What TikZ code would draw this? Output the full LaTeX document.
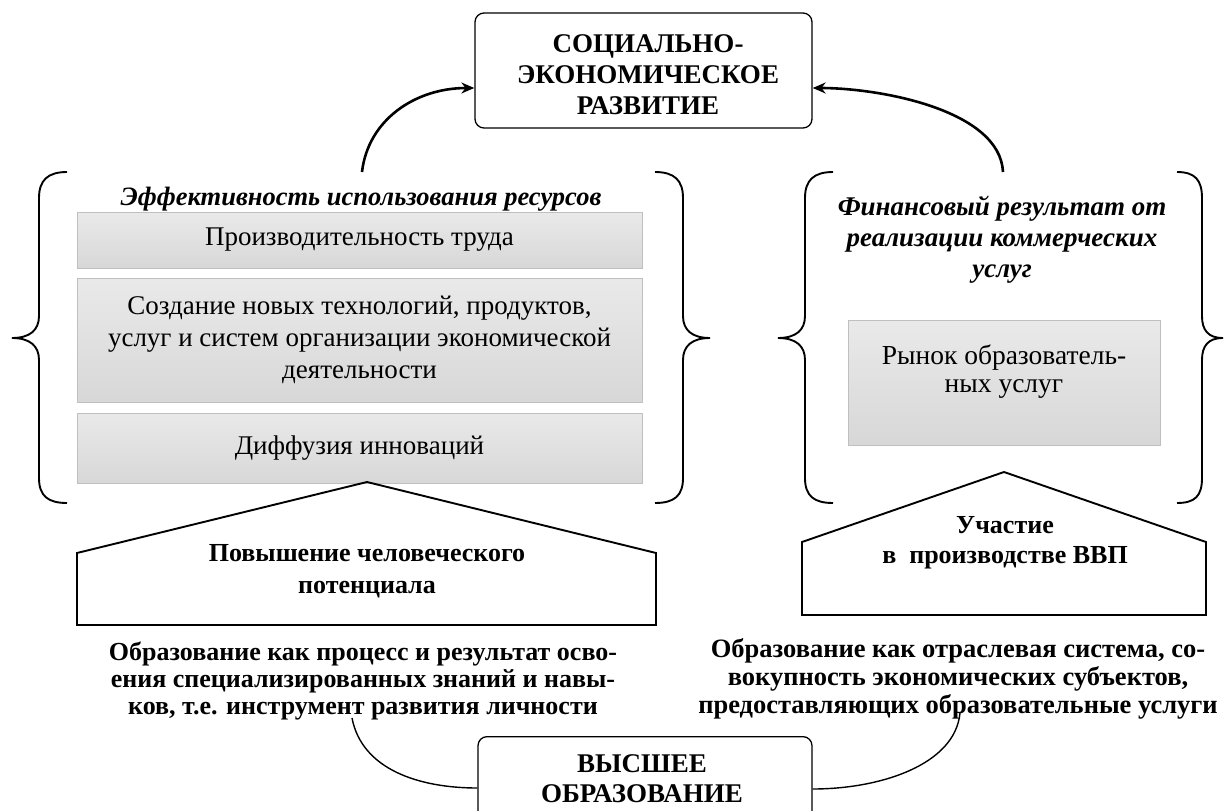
\documentclass[tikz,border=0pt]{standalone}
\usepackage{fontspec}
\setmainfont{Liberation Serif}
\usetikzlibrary{arrows.meta,calc}
\begin{document}
\begin{tikzpicture}[x=1pt,y=-1pt,
  graybox/.style={draw=gray!50, line width=0.8pt, top color=gray!17, bottom color=gray!31, inner sep=0pt},
  mainbox/.style={draw, line width=1.3pt, rounded corners=9pt, inner sep=0pt},
  capsfont/.style={font=\bfseries\fontsize{27}{31}\selectfont, align=center},
  boxfont/.style={font=\fontsize{27}{32}\selectfont, align=center},
  brace/.style={line width=1.9pt},
  house/.style={line width=1.9pt, line join=miter},
  bigarrow/.style={line width=2.6pt, -{Stealth[length=13pt,width=11pt]}},
  thinline/.style={line width=1.4pt}]
\useasboundingbox (0,0) rectangle (1224,811);
\clip (0,0) rectangle (1224,811);

% top box
\node[mainbox, minimum width=337pt, minimum height=115pt] (top) at (643.5,70.5) {};
\node[capsfont] (toptext) at (648,75) {СОЦИАЛЬНО-\\ЭКОНОМИЧЕСКОЕ\\РАЗВИТИЕ};

% bottom box
\node[mainbox, minimum width=334pt, minimum height=100pt, anchor=north] (bot) at (645,736) {};
\node[capsfont, font=\bfseries\fontsize{27}{30}\selectfont] (bottext) at (642,779) {ВЫСШЕЕ\\ОБРАЗОВАНИЕ};

% left group
\node[font=\bfseries\itshape\fontsize{26.5}{30}\selectfont] (t1) at (361,199) {Эффективность использования ресурсов};
\node[graybox, boxfont, minimum width=565pt, minimum height=56pt] (b1) at (359.5,240) {Производительность труда};
\node[graybox, boxfont, minimum width=565pt, minimum height=124pt] (b2) at (359.5,340) {Создание новых технологий, продуктов,\\услуг и систем организации экономической\\деятельности};
\node[graybox, boxfont, minimum width=565pt, minimum height=70pt] (b3) at (359.5,448) {Диффузия инноваций};

\draw[brace] (67,172) .. controls (48,172) and (39,180) .. (39,198) -- (39,316)
  .. controls (39,330) and (30,338) .. (12,338) .. controls (30,338) and (39,346) .. (39,360)
  -- (39,478) .. controls (39,496) and (48,503) .. (67,503);
\draw[brace] (655,172) .. controls (674,172) and (683,180) .. (683,198) -- (683,316)
  .. controls (683,330) and (692,338) .. (710,338) .. controls (692,338) and (683,346) .. (683,360)
  -- (683,478) .. controls (683,496) and (674,503) .. (655,503);

% right group
\node[align=center, font=\bfseries\itshape\fontsize{27}{31}\selectfont] (t2) at (1002,240) {Финансовый результат от\\реализации коммерческих\\услуг};
\node[graybox, minimum width=312pt, minimum height=125pt] (r1) at (1004,382.5) {};
\node[boxfont, font=\fontsize{27.5}{28}\selectfont] (r1text) at (1004,372) {Рынок образователь-\\ных услуг};

\draw[brace] (833,172) .. controls (814,172) and (805,180) .. (805,198) -- (805,316)
  .. controls (805,330) and (796,338) .. (778,338) .. controls (796,338) and (805,346) .. (805,360)
  -- (805,478) .. controls (805,496) and (814,503) .. (833,503);
\draw[brace] (1177,172) .. controls (1195,172) and (1202,180) .. (1202,198) -- (1202,316)
  .. controls (1202,330) and (1208,338) .. (1223,338) .. controls (1208,338) and (1202,346) .. (1202,360)
  -- (1202,478) .. controls (1202,496) and (1195,503) .. (1177,503);

% houses
\draw[house] (77,625) -- (77,553) -- (367,482) -- (656,553) -- (656,625) -- cycle;
\node[align=center, font=\bfseries\fontsize{26}{32}\selectfont] (h1) at (367,571) {Повышение человеческого\\потенциала};
\draw[house] (802,615) -- (802,542) -- (1004,472) -- (1206,542) -- (1206,615) -- cycle;
\node[align=center, font=\bfseries\fontsize{26}{30}\selectfont] (h2) at (1005,543) {Участие\\в\ \ производстве ВВП};

% bottom texts
\node[align=center, font=\bfseries\fontsize{26}{27}\selectfont] (e1) at (363,681) {Образование как процесс и результат осво-\\ения специализированных знаний и навы-\\ков, т.е. инструмент развития личности};
\node[align=center, font=\bfseries\fontsize{26.5}{28}\selectfont] (e2) at (958,679) {Образование как отраслевая система, со-\\вокупность экономических субъектов,\\предоставляющих образовательные услуги};

% connectors
\coordinate (la) at (362,172);
\coordinate (ra) at (1003,172);
\coordinate (lc) at (352,718);
\coordinate (rc) at (960,713);
\draw[bigarrow] (la) .. controls (368,120) and (415,88) .. (top.west |- 0,88);
\draw[bigarrow] (ra) .. controls (1000,110) and (880,88) .. (top.east |- 0,88);
\draw[thinline] (lc) .. controls (362,770) and (420,788) .. (bot.west |- 0,788);
\draw[thinline] (rc) .. controls (955,765) and (880,789) .. (bot.east |- 0,789);
\end{tikzpicture}
\end{document}
